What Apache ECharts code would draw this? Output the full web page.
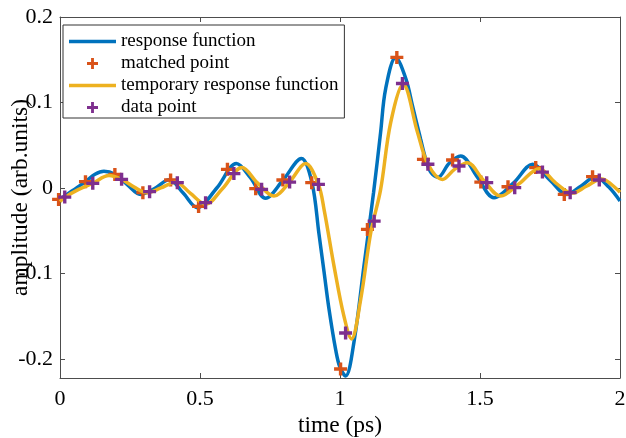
<!DOCTYPE html>
<html>
<head>
<meta charset="utf-8">
<script src="https://cdn.jsdelivr.net/npm/echarts@6/dist/echarts.min.js"></script>
<style>html,body{margin:0;padding:0;background:#fff;}#c{width:626px;height:438px;}</style>
</head>
<body>
<div id="c"></div>
<script>
// ---- data ----
const xTicks = [0, 0.5, 1, 1.5, 2];
const yTicks = [-0.2, -0.1, 0, 0.1, 0.2];

const responseX = [0, 0.045, 0.091, 0.125, 0.157, 0.196, 0.24, 0.288, 0.336, 0.39, 0.44, 0.49, 0.56, 0.63, 0.68, 0.734, 0.796, 0.862, 0.9, 0.925, 0.943, 0.96, 0.985, 1.0, 1.02, 1.05, 1.086, 1.12, 1.145, 1.163, 1.199, 1.235, 1.259, 1.288, 1.306, 1.325, 1.35, 1.39, 1.431, 1.49, 1.55, 1.62, 1.688, 1.75, 1.81, 1.86, 1.912, 1.96, 2.0];
const responseY = [-0.013, -0.003, 0.0074, 0.016, 0.0195, 0.016, 0.004, -0.0075, -0.001, 0.0095, -0.006, -0.023, 0.0, 0.0285, 0.012, -0.012, 0.009, 0.0345, 0.006, -0.054, -0.098, -0.140, -0.190, -0.210, -0.220, -0.180, -0.090, -0.005, 0.065, 0.116, 0.1527, 0.128, 0.096, 0.057, 0.034, 0.018, 0.0125, 0.029, 0.0374, 0.013, -0.0114, 0.006, 0.0277, 0.009, -0.0075, 0.002, 0.013, 0.001, -0.0153];

const tempX = [0, 0.017, 0.065, 0.117, 0.175, 0.22, 0.265, 0.31, 0.36, 0.413, 0.465, 0.52, 0.58, 0.65, 0.705, 0.764, 0.82, 0.877, 0.923, 0.943, 0.979, 1.014, 1.041, 1.074, 1.11, 1.145, 1.181, 1.226, 1.277, 1.314, 1.366, 1.41, 1.455, 1.51, 1.574, 1.64, 1.711, 1.77, 1.83, 1.88, 1.935, 1.97, 2.0];
const tempY = [-0.016, -0.011, -0.002, 0.0055, 0.0145, 0.0101, 0.001, -0.0055, 0.0, 0.0068, -0.006, -0.019, -0.001, 0.0238, 0.006, -0.0095, 0.007, 0.0285, 0.004, -0.025, -0.092, -0.150, -0.1766, -0.130, -0.052, -0.002, 0.0765, 0.121, 0.065, 0.028, 0.010, 0.022, 0.0296, 0.01, -0.0095, 0.005, 0.0226, 0.006, -0.006, 0.002, 0.0105, 0.004, -0.005];

const matchedX = [-0.005, 0.091, 0.196, 0.296, 0.395, 0.495, 0.598, 0.699, 0.796, 0.899, 1.002, 1.098, 1.203, 1.298, 1.402, 1.503, 1.600, 1.699, 1.801, 1.902];
const matchedY = [-0.0134, 0.0074, 0.0159, -0.0055, 0.0093, -0.0216, 0.0218, -0.0008, 0.0093, 0.0062, -0.2118, -0.0485, 0.1527, 0.0335, 0.0327, 0.0069, 0.0015, 0.0238, -0.0075, 0.0132];

const dataX = [0.017, 0.117, 0.220, 0.320, 0.419, 0.520, 0.621, 0.720, 0.820, 0.923, 1.020, 1.122, 1.223, 1.314, 1.425, 1.524, 1.624, 1.723, 1.822, 1.926];
const dataY = [-0.0107, 0.0054, 0.0101, -0.0043, 0.0062, -0.0172, 0.0168, -0.0016, 0.0069, 0.0042, -0.1696, -0.0388, 0.1222, 0.0277, 0.0257, 0.0062, 0.0004, 0.0186, -0.0055, 0.0093];

const names = ['response function', 'matched point', 'temporary response function', 'data point'];

// ---- chart ----
const zip = (xs, ys) => xs.map((x, i) => [x, ys[i]]);
const FONT = 'Liberation Serif';
const AX = '#4d4d4d';
const plus = 'path://M3.7,0 H6.3 V3.7 H10 V6.3 H6.3 V10 H3.7 V6.3 H0 V3.7 H3.7 Z';
const bar = 'path://M0,0 H47 V3.5 H0 Z';

const chart = echarts.init(document.getElementById('c'), null, {renderer: 'canvas'});
const fmt = v => {
  const r = Math.round(v * 10) / 10;
  return r === 0 ? '0' : String(r);
};
const axisCommon = {
  axisLine: {show: true, onZero: false, lineStyle: {color: AX, width: 1}},
  splitLine: {show: false}
};
chart.setOption({
  animation: false,
  backgroundColor: '#fff',
  grid: {left: 60, right: 6, top: 17, bottom: 60, containLabel: false, outerBoundsMode: 'none'},
  legend: {
    data: [
      {name: names[0], icon: bar},
      {name: names[1], icon: plus},
      {name: names[2], icon: bar},
      {name: names[3], icon: plus}
    ],
    orient: 'vertical',
    left: 63, top: 25,
    padding: [7, 6, 1, 6],
    itemWidth: 47, itemHeight: 11, itemGap: 3,
    borderColor: '#333', borderWidth: 1,
    backgroundColor: '#fff',
    textStyle: {fontFamily: FONT, fontSize: 19, color: '#000'}
  },
  xAxis: [Object.assign({
    type: 'value', min: 0, max: 2, interval: 0.5, position: 'bottom',
    name: 'time (ps)', nameLocation: 'middle', nameGap: 36, nameMoveOverlap: false,
    nameTextStyle: {fontFamily: FONT, fontSize: 23.5, color: '#000'},
    axisTick: {show: true, inside: true, length: 5, lineStyle: {color: AX}, customValues: xTicks},
    axisLabel: {fontFamily: FONT, fontSize: 22, color: '#000', margin: 10, customValues: xTicks, formatter: v => String(v)}
  }, axisCommon), Object.assign({
    type: 'value', min: 0, max: 2, interval: 0.5, position: 'top',
    axisTick: {show: true, inside: true, length: 5, lineStyle: {color: AX}, customValues: xTicks},
    axisLabel: {show: false}
  }, axisCommon)],
  yAxis: [Object.assign({
    type: 'value', min: -0.2223, max: 0.2, position: 'left',
    name: 'amplitude (arb.units)', nameLocation: 'middle', nameGap: 27, nameRotate: 90, nameMoveOverlap: false,
    nameTextStyle: {fontFamily: FONT, fontSize: 23.5, color: '#000'},
    axisTick: {show: true, inside: true, length: 5, lineStyle: {color: AX}, customValues: yTicks},
    axisLabel: {fontFamily: FONT, fontSize: 22, color: '#000', margin: 7, padding: [7, 0, 0, 0], customValues: yTicks, formatter: fmt}
  }, axisCommon), Object.assign({
    type: 'value', min: -0.2223, max: 0.2, position: 'right',
    axisTick: {show: true, inside: true, length: 5, lineStyle: {color: AX}, customValues: yTicks},
    axisLabel: {show: false}
  }, axisCommon)],
  series: [{
    name: names[0], type: 'line', data: zip(responseX, responseY),
    smooth: 0.35, symbol: 'none', showSymbol: false,
    lineStyle: {color: '#0072BD', width: 3.5}, itemStyle: {color: '#0072BD'}, z: 2
  }, {
    name: names[1], type: 'scatter', data: zip(matchedX, matchedY),
    symbol: plus, symbolSize: 13, clip: false,
    itemStyle: {color: '#D95319', opacity: 1}, z: 3
  }, {
    name: names[2], type: 'line', data: zip(tempX, tempY),
    smooth: 0.35, symbol: 'none', showSymbol: false,
    lineStyle: {color: '#EDB120', width: 3.5}, itemStyle: {color: '#EDB120'}, z: 4
  }, {
    name: names[3], type: 'scatter', data: zip(dataX, dataY),
    symbol: plus, symbolSize: 13, clip: false,
    itemStyle: {color: '#7E2F8E', opacity: 1}, z: 5
  }]
});
</script>
</body>
</html>
